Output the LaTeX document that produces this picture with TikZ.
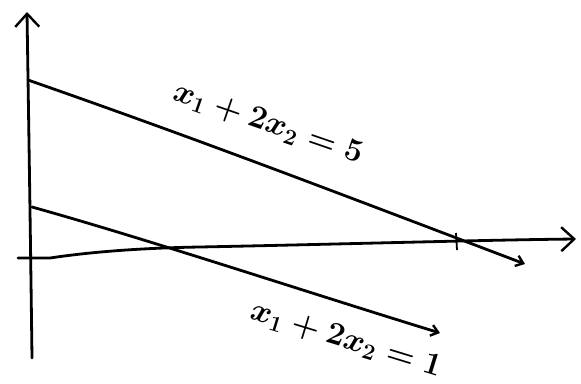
\documentclass[tikz,border=0pt]{standalone}
\usetikzlibrary{arrows.meta}
\begin{document}
\begin{tikzpicture}[x=1pt,y=-1pt,
  pen/.style={line width=2.8pt,line cap=round,line join=round},
  tip/.style={-{Straight Barb[length=13pt,width=24pt,line width=2.4pt]}},
  smalltip/.style={-{Straight Barb[length=7pt,width=11pt,line width=2.4pt]}},
  lbl/.style={font=\huge\boldmath, inner sep=0pt, scale=1.55}]
\useasboundingbox (0,0) rectangle (581,383);
% axes
\coordinate (vb) at (32,358);
\coordinate (vt) at (27,12);
\coordinate (hl) at (18,258);
\coordinate (hr) at (576,239);
\draw[pen,tip] (vb) .. controls (30,200) and (28,80) .. (vt);
\draw[pen,tip] (hl) -- (50,258) .. controls (90,252) and (140,248) .. (200,247) .. controls (350,244) and (480,240) .. (hr);
% tick
\coordinate (tk1) at (456,233);
\coordinate (tk2) at (457,250);
\draw[line width=1.8pt] (tk1) -- (tk2);
% upper line
\coordinate (u0) at (28,80);
\coordinate (u1) at (525,264);
\draw[pen,smalltip] (u0) .. controls (200,140) and (330,190) .. (u1);
% lower line
\coordinate (l0) at (32,207);
\coordinate (l1) at (440,333);
\draw[pen,smalltip] (l0) .. controls (150,240) and (300,290) .. (l1);
% labels
\node[lbl,rotate=-19] (t1) at (268,124) {$x_1+2x_2=5$};
\node[lbl,rotate=-17] (t2) at (346,340) {$x_1+2x_2=1$};
\end{tikzpicture}
\end{document}
